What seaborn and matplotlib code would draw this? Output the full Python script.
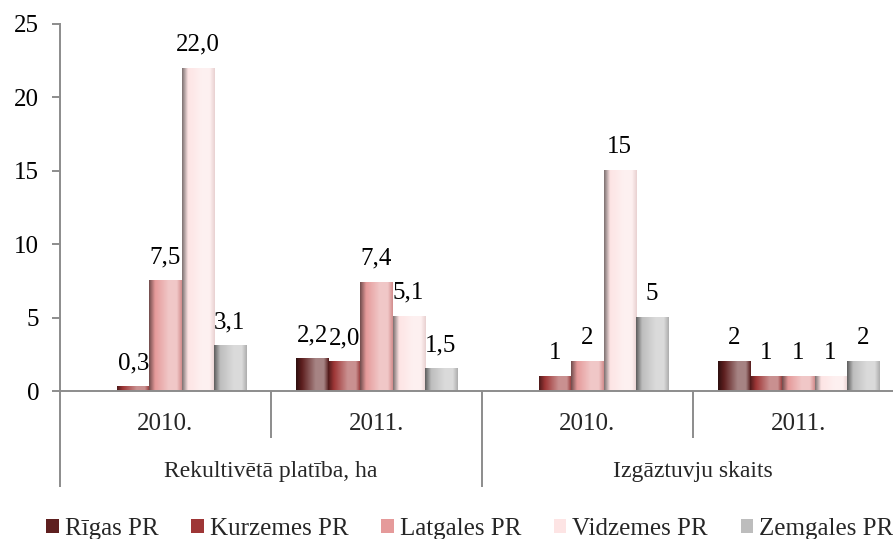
import numpy as np
import pandas as pd
import matplotlib
matplotlib.use("Agg")
import matplotlib.pyplot as plt
import matplotlib.transforms as mtransforms
from matplotlib.colors import to_rgb
from matplotlib.patches import Patch
import seaborn as sns

# ---------------- data ----------------
sections = ["Rekultivētā platība, ha", "Izgāztuvju skaits"]
years = ["2010.", "2011."]
series = ["Rīgas PR", "Kurzemes PR", "Latgales PR", "Vidzemes PR", "Zemgales PR"]
rigas = [None, 2.2, None, 2]
kurzemes = [0.3, 2.0, 1, 1]
latgales = [7.5, 7.4, 2, 1]
vidzemes = [22.0, 5.1, 15, 1]
zemgales = [3.1, 1.5, 5, 2]
decimals = [1, 0]          # label decimals for each section
yticks = [0, 5, 10, 15, 20, 25]

colors = ["#5e1f1f", "#9e3636", "#e59a9a", "#fde4e4", "#bdbdbd"]

groups = [f"{s}|{y}" for s in sections for y in years]
rows = []
for name, vals in zip(series, [rigas, kurzemes, latgales, vidzemes, zemgales]):
    for g, v in zip(groups, vals):
        if v is not None:
            rows.append({"group": g, "series": name, "value": v})
df = pd.DataFrame(rows)

# ---------------- style ----------------
sns.set_theme(style="white")
plt.rcParams["font.family"] = ["Liberation Serif", "DejaVu Serif"]
FS = 18
FS_SEC = 17
GRAY = "#8c8c8c"

W, H = 893, 539
fig = plt.figure(figsize=(W / 100, H / 100), dpi=100)
ax = fig.add_axes([60 / W, 148 / H, 844 / W, 367 / H])

sns.barplot(data=df, x="group", y="value", hue="series", order=groups,
            hue_order=series, palette=colors, width=0.76, gap=0,
            saturation=1, edgecolor="none", legend=False, ax=ax)

# cylinder-like shading on each bar
def shade(base):
    base = np.array(to_rgb(base))
    dark = base * 0.5
    light = base + (1 - base) * 0.45
    ts = np.linspace(0, 1, 64)
    out = []
    for t in ts:
        if t < 0.18:
            c = dark + (base - dark) * (t / 0.18)
        elif t < 0.6:
            c = base + (light - base) * ((t - 0.18) / 0.42)
        elif t < 0.85:
            c = light
        else:
            c = light + (base * 0.92 - light) * ((t - 0.85) / 0.15)
        out.append(np.clip(c, 0, 1))
    return np.array(out)[None, :, :]

for bar in list(ax.patches):
    h = bar.get_height()
    if h is None or not np.isfinite(h) or h == 0:
        continue
    x0 = bar.get_x()
    w = bar.get_width()
    img = shade(bar.get_facecolor())
    ax.imshow(img, extent=[x0, x0 + w, 0, h], aspect="auto",
              interpolation="bilinear", zorder=bar.get_zorder() + 0.1)

# value labels
for cont in ax.containers:
    labels = []
    for bar in cont:
        h = bar.get_height()
        gi = int(round(bar.get_x() + bar.get_width() / 2))
        d = decimals[gi // len(years)]
        if not np.isfinite(h):
            labels.append("")
        else:
            labels.append(f"{h:.{d}f}".replace(".", ","))
    ax.bar_label(cont, labels=labels, padding=9, fontsize=FS, color="black")

ax.set_xlim(-0.5, len(groups) - 0.5)
ax.set_ylim(0, 25)
ax.set_yticks(yticks)
ax.set_yticklabels([str(t) for t in yticks], fontsize=FS)
ax.set_xticks([])
ax.set_xlabel("")
ax.set_ylabel("")

for s in ["top", "right"]:
    ax.spines[s].set_visible(False)
for s in ["left", "bottom"]:
    ax.spines[s].set_color(GRAY)
    ax.spines[s].set_linewidth(1.4)
ax.tick_params(axis="y", which="both", left=True, direction="out", length=6,
               width=1.4, color=GRAY, pad=9, labelcolor="black")

# category axis: year labels, section labels, separators
tr = mtransforms.blended_transform_factory(ax.transData, ax.transAxes)
ax_h = 367
y_year = -33 / ax_h
y_sec = -81 / ax_h
y_minor = -47 / ax_h
y_major = -96 / ax_h
for i, g in enumerate(groups):
    ax.text(i, y_year, g.split("|")[1], transform=tr, ha="center",
            va="center", fontsize=FS)
for k, s in enumerate(sections):
    c = k * len(years) + (len(years) - 1) / 2
    ax.text(c, y_sec, s, transform=tr, ha="center", va="center", fontsize=FS_SEC)
for b in range(len(groups) + 1):
    xb = b - 0.5
    y_end = y_major if b % len(years) == 0 else y_minor
    ax.plot([xb, xb], [0, y_end], transform=tr, color=GRAY, lw=1.4,
            clip_on=False, solid_capstyle="butt")

# legend
handles = [Patch(facecolor=c, edgecolor="none") for c in colors]
fig.legend(handles, series, loc="center", bbox_to_anchor=(470 / W, 10 / H),
           ncol=5, frameon=False, fontsize=FS, handlelength=0.5,
           handleheight=0.5, handletextpad=0.25, columnspacing=1.3,
           borderaxespad=0)

fig.savefig("out.png", dpi=100)
